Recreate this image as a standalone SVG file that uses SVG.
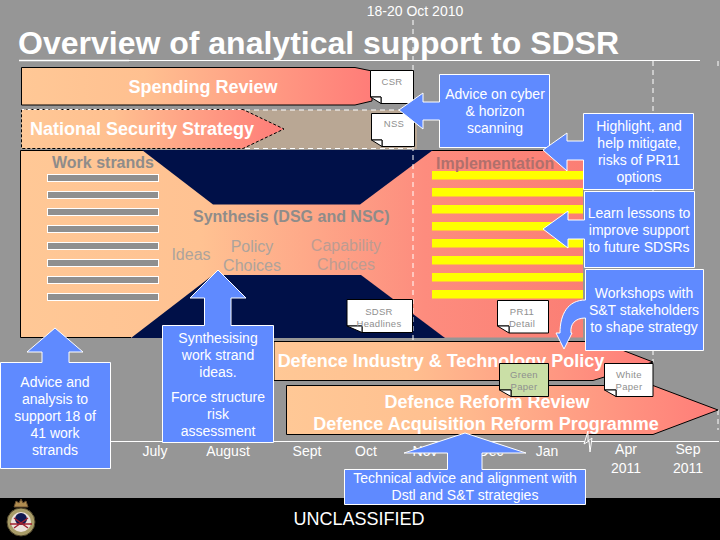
<svg xmlns="http://www.w3.org/2000/svg" width="720" height="540" viewBox="0 0 720 540">
<defs>
<linearGradient id="g" x1="0" x2="1" y1="0" y2="0"><stop offset="0" stop-color="#ffc896"/><stop offset="0.35" stop-color="#ffc090"/><stop offset="1" stop-color="#ff7c78"/></linearGradient>
<linearGradient id="gp" gradientUnits="userSpaceOnUse" x1="20" x2="583" y1="0" y2="0"><stop offset="0" stop-color="#ffc896"/><stop offset="0.32" stop-color="#ffc292"/><stop offset="0.72" stop-color="#fd8c7e"/><stop offset="1" stop-color="#fb7e74"/></linearGradient>
<pattern id="stripes" width="10" height="17" patternUnits="userSpaceOnUse" x="0" y="171"><rect width="10" height="8.500" fill="#ffff00"/></pattern>
</defs>
<style>
text{font-family:"Liberation Sans",Arial,sans-serif}
.b{font-weight:bold;fill:#fff;font-size:18px;text-anchor:middle}
.g{font-weight:bold;fill:#8f8c8a;font-size:16px}
.m{fill:#fff;font-size:14px;text-anchor:middle}
.s{fill:#8f8f8f;font-size:9.500px;text-anchor:middle;letter-spacing:.3px}
.l{fill:#ada39c;font-size:16px;text-anchor:middle}
.call{fill:#5f8aff;stroke:#fff;stroke-width:1}
.note{fill:#fff;stroke:#000;stroke-width:1}
.bar{fill:#8f8f8f;stroke:#fff;stroke-width:1}
.dash{stroke:#fff;stroke-dasharray:5 4;fill:none}
</style>
<rect width="720" height="540" fill="#969696"/>
<rect y="498" width="720" height="42" fill="#000"/>
<g id="title">
<text x="415" y="16" font-size="14" fill="#fff" text-anchor="middle">18-20 Oct 2010</text>
<text x="18" y="54" font-size="32" font-weight="bold" fill="#fff">Overview of analytical support to SDSR</text>
<path d="M19 60.500H129" stroke="#fff" stroke-width="1.500"/>
<path d="M129 60.500H700" stroke="#fff"/>
</g>
<g id="spending-review">
<path d="M21.500 67.500H355L372 71V101L355 105H21.500Z" fill="url(#g)" stroke="#000"/>
<text class="b" x="203" y="93">Spending Review</text>
</g>
<g id="nss-band">
<path d="M21.500 110H417V149H21.500Z" fill="#b9a794"/>
<path d="M245 110H415M245 148.500H415" class="dash"/>
<path d="M21.500 109.500H243L284 129L243 148.500H21.500Z" fill="url(#g)" stroke="#000" stroke-dasharray="3 2"/>
<path d="M21.500 109.500H243" stroke="#fff" stroke-dasharray="3 3"/>
<text class="b" x="142" y="135">National Security Strategy</text>
</g>
<g id="strands-area">
<path d="M20.500 150.500H583V337.500H20.500Z" fill="url(#gp)"/>
<path d="M583 150.500H20.500V337.500H131" fill="none" stroke="#000"/>
<path d="M142 150H433L360 204.500H213Z" fill="#001048"/>
<path d="M213 275H361L445 338H131Z" fill="#001048"/>
<rect x="432" y="171" width="151" height="128" fill="url(#stripes)"/>
<rect x="47.500" y="174.500" width="111" height="7" class="bar"/>
<rect x="47.500" y="191.500" width="111" height="7" class="bar"/>
<rect x="47.500" y="208.500" width="111" height="7" class="bar"/>
<rect x="47.500" y="225.500" width="111" height="7" class="bar"/>
<rect x="47.500" y="242.500" width="111" height="7" class="bar"/>
<rect x="47.500" y="259.500" width="111" height="7" class="bar"/>
<rect x="47.500" y="276.500" width="111" height="7" class="bar"/>
<rect x="47.500" y="293.500" width="111" height="7" class="bar"/>
<text class="g" x="52" y="168">Work strands</text>
<text class="g" x="193" y="222">Synthesis (DSG and NSC)</text>
<text class="g" x="436" y="169" style="fill:#b0706c">Implementation</text>
<text class="l" x="191" y="260">Ideas</text>
<text class="l" x="252" y="252">Policy</text>
<text class="l" x="252" y="271">Choices</text>
<text class="l" x="346" y="251" style="fill:#bd9c92">Capability</text>
<text class="l" x="346" y="270" style="fill:#bd9c92">Choices</text>
</g>
<g id="guides">
<path class="dash" d="M413 20V340M653 61V200M653 350V362M653 396V434M718 410V430M718 61V70"/>
</g>
<g id="defence-industry">
<path d="M274 341.500H600L653 362L593 380.500H274Z" fill="url(#g)" stroke="#000"/>
<text class="b" x="441" y="367">Defence Industry &amp; Technology Policy</text>
</g>
<g id="defence-reform">
<path d="M286.500 385.500H653L718 410L653 434.500H286.500Z" fill="url(#g)" stroke="#000"/>
<text class="b" x="487" y="408">Defence Reform Review</text>
<text class="b" x="486" y="430">Defence Acquisition Reform Programme</text>
</g>
<g id="timeline">
<path d="M110 441.500H719" stroke="#fff" fill="none"/>
<path d="M588 431L584 444L589 441L590 452L592 438L588 441Z" stroke="#fff" fill="#969696"/>
<text class="m" x="155" y="456">July</text>
<text class="m" x="228" y="456">August</text>
<text class="m" x="307" y="456">Sept</text>
<text class="m" x="366" y="456">Oct</text>
<text class="m" x="425" y="456">Nov</text>
<text class="m" x="491" y="456">Dec</text>
<text class="m" x="547" y="456">Jan</text>
<text class="m" x="626" y="454">Apr</text>
<text class="m" x="626" y="473">2011</text>
<text class="m" x="688" y="454">Sep</text>
<text class="m" x="688" y="473">2011</text>
</g>
<g id="note-csr"><path class="note" d="M370.500 70.500H413.500V103.500H381V97H370.500Z"/><path class="note" d="M370.500 97H381V103.500Z"/><text class="s" x="392" y="85">CSR</text></g>
<g id="note-nss"><path class="note" d="M371.500 113.500H414.500V146.500H382V140H371.500Z"/><path class="note" d="M371.500 140H382V146.500Z"/><text class="s" x="394" y="127">NSS</text></g>
<g id="note-sdsr"><path class="note" d="M347 299.500H412.500V332.500H362V326H347Z"/><path class="note" d="M347 326H362V332.500Z"/><text class="s" x="379" y="315">SDSR</text><text class="s" x="379" y="327">Headlines</text></g>
<g id="note-pr11"><path class="note" d="M497.500 300.500H548.500V333H509V326H497.500Z"/><path class="note" d="M497.500 326H509V333Z"/><text class="s" x="522" y="315">PR11</text><text class="s" x="522" y="327">Detail</text></g>
<g id="note-green"><path d="M499.500 363.500H548.500V396.500H511V390H499.500Z" fill="#cadfa6" stroke="#000"/><path class="note" d="M499.500 390H511V396.500Z"/><text class="s" x="524" y="378">Green</text><text class="s" x="524" y="390">Paper</text></g>
<g id="note-white"><path class="note" d="M604.500 363.500H653V396.500H616V390H604.500Z"/><path class="note" d="M604.500 390H616V396.500Z"/><text class="s" x="629" y="378">White</text><text class="s" x="629" y="390">Paper</text></g>
<g id="callout-cyber">
<path class="call" d="M439.500 74.500H549.500V147.500H439.500V120H423V129L399 110L423 93V102H439.500Z"/>
<text class="m" x="495" y="99">Advice on cyber</text><text class="m" x="495" y="116">&amp; horizon</text><text class="m" x="495" y="133">scanning</text>
</g>
<g id="callout-highlight">
<path class="call" d="M583.500 113.500H693.500V189.500H583.500V160H567V171L543 150L567 133V141H583.500Z"/>
<text class="m" x="639" y="131">Highlight, and</text><text class="m" x="639" y="148">help mitigate,</text><text class="m" x="639" y="165">risks of PR11</text><text class="m" x="639" y="182">options</text>
</g>
<g id="callout-lessons">
<path class="call" d="M584.500 191.500H694.500V267.500H584.500V239H568V248L543 229L568 211V220H584.500Z"/>
<text class="m" x="639" y="218">Learn lessons to</text><text class="m" x="639" y="235">improve support</text><text class="m" x="639" y="252">to future SDSRs</text>
</g>
<g id="callout-workshops">
<path class="call" d="M585.500 269.500H703.500V350.500H585.500V318C575 318 570 324 571 333H572L564 349L556 333H560C560 314 568 300 585.500 300Z"/>
<text class="m" x="644" y="298">Workshops with</text><text class="m" x="644" y="315">S&amp;T stakeholders</text><text class="m" x="644" y="332">to shape strategy</text>
</g>
<g id="callout-advice">
<path class="call" d="M.5 362.500H42V352H27L55 328L83 352H69V362.500H110.500V468.500H.5Z"/>
<text class="m" x="55" y="387">Advice and</text><text class="m" x="55" y="404">analysis to</text><text class="m" x="55" y="421">support 18 of</text><text class="m" x="55" y="438">41 work</text><text class="m" x="55" y="455">strands</text>
</g>
<g id="callout-synth">
<path class="call" d="M162.500 325.500H204.500V298H190L218 270L246 298H231V325.500H273.500V442.500H162.500Z"/>
<text class="m" x="218" y="343">Synthesising</text><text class="m" x="218" y="360">work strand</text><text class="m" x="218" y="377">ideas.</text><text class="m" x="218" y="402">Force structure</text><text class="m" x="218" y="419">risk</text><text class="m" x="218" y="436">assessment</text>
</g>
<g id="callout-tech">
<path class="call" d="M344.500 469.500H447.500V453H404L465 433L526 453H482V469.500H585.500V504.500H344.500Z"/>
<text class="m" x="465" y="483">Technical advice and alignment with</text><text class="m" x="465" y="500">Dstl and S&amp;T strategies</text>
</g>
<g id="footer">
<text x="359" y="525" font-size="18" fill="#fff" text-anchor="middle">UNCLASSIFIED</text>
<path d="M14 507L16 501L19 503L21 499L23 503L26 501L28 507Z" fill="#b08c50" stroke="#6a5030"/>
<circle cx="21" cy="522" r="14" fill="#a89c68" stroke="#4a4028"/>
<circle cx="21" cy="522" r="10" fill="#ece2de"/>
<circle cx="21" cy="519" r="6" fill="#101850"/>
<path d="M10 524L32 524M14 518L28 528M28 518L14 528" stroke="#a02030" stroke-width="1.500"/>
</g>
</svg>
